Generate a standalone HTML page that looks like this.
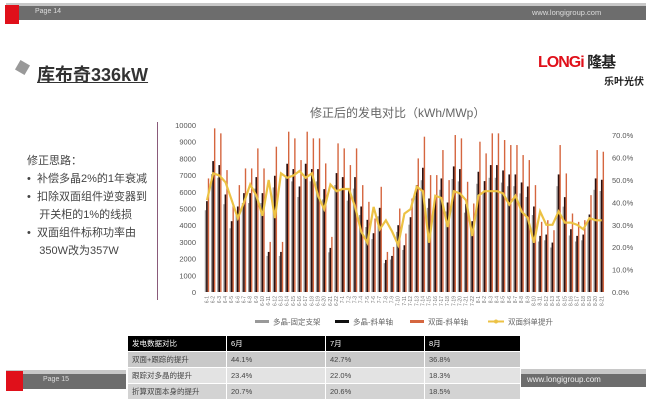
<!DOCTYPE html><html><head><meta charset="utf-8"><style>
body{margin:0;width:665px;height:408px;background:#fff;position:relative;overflow:hidden;font-family:"Liberation Sans","Noto Sans CJK SC",sans-serif}
.a{position:absolute;white-space:nowrap}
table{border-collapse:collapse;position:absolute;left:127px;top:335px;width:394px;font-size:7.5px;color:#444}
td{border:1px solid #fff;padding:0 4px;height:15px}
</style></head><body>
<div class="a" style="left:6px;top:3px;width:640px;height:3px;background:#c8c8c8"></div>
<div class="a" style="left:6px;top:6px;width:640px;height:14px;background:#6d6d6d"></div>
<div class="a" style="left:5px;top:5px;width:14px;height:19px;background:#e0101a"></div>
<div class="a" style="left:35px;top:8px;font-size:7px;color:#ddd">Page 14</div>
<div class="a" style="left:532px;top:7.5px;font-size:7.5px;color:#ddd">www.longigroup.com</div>
<div class="a" style="left:17px;top:62px;width:11px;height:11px;background:#999;transform:rotate(30deg)"></div>
<div class="a" style="left:37px;top:61px;font-size:18px;font-weight:bold;color:#333;text-decoration:underline">库布奇336kW</div>
<div class="a" style="left:538px;top:51px;font-size:16px;font-weight:bold;color:#e0101a;letter-spacing:-1px">LONGi <span style="color:#222;font-size:15px">隆基</span></div>
<div class="a" style="left:604px;top:73px;font-size:10px;font-weight:bold;color:#222">乐叶光伏</div>
<div class="a" style="left:310px;top:104px;font-size:12px;color:#666">修正后的发电对比（kWh/MWp）</div>
<div class="a" style="left:27px;top:152px;font-size:11px;color:#444;line-height:18px">修正思路：<br>•&nbsp; 补偿多晶2%的1年衰减<br>•&nbsp; 扣除双面组件逆变器到<br>&nbsp;&nbsp;&nbsp; 开关柜的1%的线损<br>•&nbsp; 双面组件标称功率由<br>&nbsp;&nbsp;&nbsp; 350W改为357W</div>
<div class="a" style="left:157px;top:122px;width:1px;height:178px;background:#8a5a7a"></div>
<svg class="a" style="left:0;top:0" width="665" height="408" id="s"></svg>
<div class="a" style="left:6px;top:370px;width:120px;height:4px;background:#c8c8c8"></div>
<div class="a" style="left:6px;top:374px;width:120px;height:15px;background:#6d6d6d"></div>
<div class="a" style="left:6px;top:371px;width:17px;height:20px;background:#e0101a"></div>
<div class="a" style="left:43px;top:376px;font-size:7px;color:#ddd">Page 15</div>
<div class="a" style="left:521px;top:369px;width:125px;height:5px;background:#c8c8c8"></div>
<div class="a" style="left:521px;top:374px;width:125px;height:13px;background:#6d6d6d"></div>
<div class="a" style="left:527px;top:375px;font-size:8px;color:#eee">www.longigroup.com</div>
<table>
<tr style="background:#000;color:#fff"><td style="width:90px">发电数据对比</td><td style="width:90px">6月</td><td style="width:90px">7月</td><td>8月</td></tr>
<tr style="background:#c9c9c9"><td>双面+跟踪的提升</td><td>44.1%</td><td>42.7%</td><td>36.8%</td></tr>
<tr style="background:#e3e3e3"><td>跟踪对多晶的提升</td><td>23.4%</td><td>22.0%</td><td>18.3%</td></tr>
<tr style="background:#d3d3d3"><td>折算双面本身的提升</td><td>20.7%</td><td>20.6%</td><td>18.5%</td></tr>
</table>
<script>
var O=[6800,9800,9500,7300,5300,6400,7400,7400,8600,7400,3000,8700,3000,9600,9200,7900,9600,9200,9200,7700,3300,8900,8600,7600,8600,6400,5400,4400,6300,2400,2700,5000,3500,5600,8000,9300,7000,7000,8500,6700,9400,9200,6600,5300,9000,8300,9500,9500,9100,8800,8800,8200,7900,6400,4200,4300,3700,8800,7100,4700,4200,4300,5800,8500,8400];
var L=[41,53,52,49,41,33,40,48,43,34,50,33,53,51,52,54,51,53,43,37,48,45,46,46,38,27,22,38,28,32,27,21,35,37,47,45,22,43,42,29,45,44,41,25,43,45,45,45,44,39,43,36,33,22,36,30,30,36,31,31,30,28,33,32,32];
var s='',x0=204,x1=605,n=O.length,w=(x1-x0)/n,y0=292,k=167/10000;
var lt=['0','1000','2000','3000','4000','5000','6000','7000','8000','9000','10000'];
for(var i=0;i<=10;i++){s+='<text x="196" y="'+(y0-i*16.7+3)+'" font-size="7.5" fill="#555" text-anchor="end">'+lt[i]+'</text>';}
for(var i=0;i<=7;i++){s+='<text x="612" y="'+(y0-i*22.4+3)+'" font-size="7.5" fill="#555">'+i*10+'.0%</text>';}
var pts=[];
for(var i=0;i<n;i++){var x=x0+i*w,o=O[i],b=o*0.8,g=o*0.72;
s+='<rect x="'+(x+0.8)+'" y="'+(y0-g*k)+'" width="1.3" height="'+g*k+'" fill="#999"/>';
s+='<rect x="'+(x+2.1)+'" y="'+(y0-b*k)+'" width="1.7" height="'+b*k+'" fill="#2a1010"/>';
s+='<rect x="'+(x+3.8)+'" y="'+(y0-o*k)+'" width="1.4" height="'+o*k+'" fill="#d5663f"/>';
pts.push((x+3).toFixed(1)+','+(y0-L[i]*2.24).toFixed(1));
var m=6+Math.floor(i/22),d=i%22+1;
s+='<text transform="translate('+(x+4.5)+',296) rotate(-90)" font-size="5" fill="#777" text-anchor="end">'+m+'-'+d+'</text>';}
s+='<polyline points="'+pts.join(' ')+'" fill="none" stroke="#ecc244" stroke-width="2.2"/>';
var lg=[[255,'#999','多晶-固定支架'],[335,'#111','多晶-斜单轴'],[410,'#d5663f','双面-斜单轴']];
lg.forEach(function(a){s+='<rect x="'+a[0]+'" y="320" width="14" height="3" fill="'+a[1]+'"/><text x="'+(a[0]+18)+'" y="324.5" font-size="7.5" fill="#666">'+a[2]+'</text>';});
s+='<line x1="488" y1="321.5" x2="504" y2="321.5" stroke="#ecc244" stroke-width="2"/><circle cx="496" cy="321.5" r="2" fill="#ecc244"/><text x="508" y="324.5" font-size="7.5" fill="#666">双面斜单提升</text>';
document.getElementById('s').innerHTML=s;
</script>
</body></html>
